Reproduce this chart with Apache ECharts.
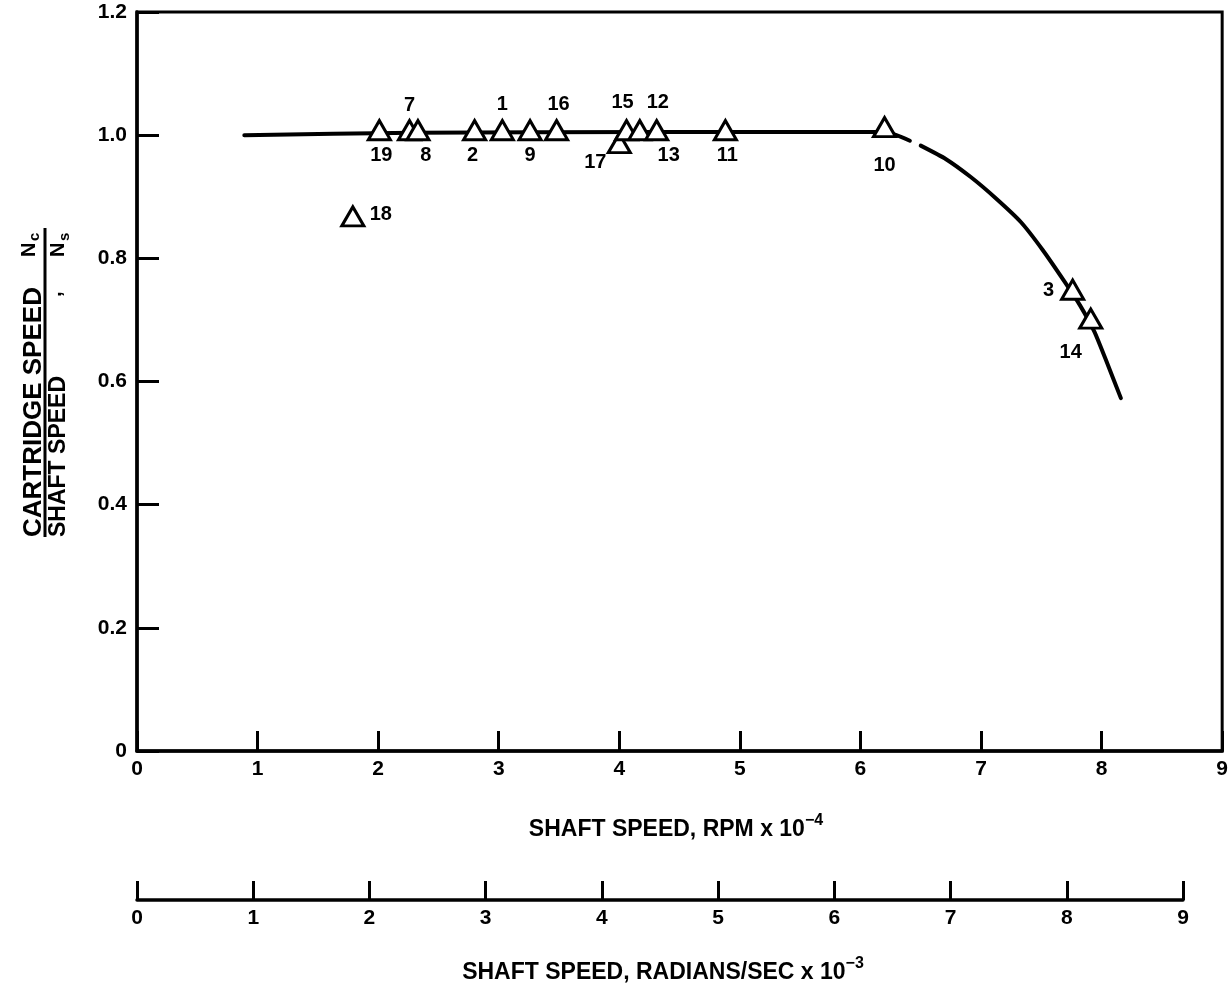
<!DOCTYPE html>
<html>
<head>
<meta charset="utf-8">
<title>Cartridge speed ratio vs shaft speed</title>
<script src="https://cdn.jsdelivr.net/npm/echarts@6/dist/echarts.min.js"></script>
<style>
  html, body { margin: 0; padding: 0; background: #fff; }
  #chart { width: 1231px; height: 994px; }
</style>
</head>
<body>
<div id="chart"></div>
<script>
// Test run numbers and measured points: shaft speed (RPM x 1e-4) and Nc/Ns
const runs  = ['19', '7', '8', '2', '1', '9', '16', '17', '15', '12', '13', '11', '10', '18', '3', '14'];
const rpm   = [2.01, 2.26, 2.33, 2.80, 3.03, 3.26, 3.48, 4.00, 4.06, 4.17, 4.31, 4.88, 6.20, 1.79, 7.76, 7.91];
const ratio = [1.008, 1.008, 1.008, 1.008, 1.008, 1.008, 1.008, 0.987, 1.008, 1.008, 1.008, 1.008, 1.013, 0.868, 0.749, 0.702];

// Faired curve through the data (null leaves the small break in the pen line)
const curveRpm   = [0.89, 2.3, 4.3, 6.204, 6.41, null, 6.50, 6.71, 6.915, 7.12, 7.33, 7.51, 7.69, 7.82, 7.94, 8.05, 8.16];
const curveRatio = [1.0, 1.004, 1.005, 1.005, 0.991, null, 0.983, 0.961, 0.932, 0.898, 0.859, 0.814, 0.763, 0.724, 0.681, 0.628, 0.573];

// Axis ticks
const rpmTicks = [0, 1, 2, 3, 4, 5, 6, 7, 8, 9];
const radTicks = [0, 1, 2, 3, 4, 5, 6, 7, 8, 9];
const ratioTicks = [0, 0.2, 0.4, 0.6, 0.8, 1.0, 1.2];

// Where each run number sits relative to its triangle (pixels)
const labelOffset = {
  '19': [2, 25], '7': [0, -25], '8': [8, 25], '2': [-2, 25], '1': [0, -26],
  '9': [0, 25], '16': [2, -26], '17': [-24, 19], '15': [-4, -28], '12': [18, -28],
  '13': [12, 25], '11': [2, 25], '10': [0, 38], '18': [28, -2], '3': [-24, 1], '14': [-20, 34]
};

const FONT = 'Liberation Sans';
const INK = '#000';

const points = runs.map((r, i) => ({
  value: [rpm[i], ratio[i]],
  name: r,
  label: { offset: labelOffset[r] }
}));
const curve = curveRpm.map((x, i) => (x === null ? [null, null] : [x, curveRatio[i]]));

const chart = echarts.init(document.getElementById('chart'), null, { renderer: 'canvas' });

const supTitle = (main, sup, x, y) => ({
  type: 'text', x: x, y: y,
  style: {
    text: '{m|' + main + '}{s|' + sup + '}',
    align: 'center', verticalAlign: 'bottom', fill: INK,
    rich: {
      m: { fontFamily: FONT, fontWeight: 'bold', fontSize: 23, lineHeight: 28, verticalAlign: 'bottom', fill: INK },
      s: { fontFamily: FONT, fontWeight: 'bold', fontSize: 16, lineHeight: 28, verticalAlign: 'top', fill: INK }
    }
  }
});

chart.setOption({
  backgroundColor: '#fff',
  animation: false,
  grid: [
    { left: 137, right: 6, top: 12, bottom: 243, show: true, borderColor: INK, borderWidth: 3, backgroundColor: 'transparent' },
    { left: 137, width: 1046, top: 880, height: 20, show: false }
  ],
  xAxis: [
    {
      type: 'value', gridIndex: 0, min: rpmTicks[0], max: rpmTicks[rpmTicks.length - 1], interval: 1,
      axisLine: { show: true, onZero: false, lineStyle: { color: INK, width: 3.5 } },
      axisTick: { show: true, inside: true, length: 20, lineStyle: { color: INK, width: 3 } },
      axisLabel: { color: INK, fontFamily: FONT, fontWeight: 'bold', fontSize: 21, margin: 8 },
      splitLine: { show: false }
    },
    {
      type: 'value', gridIndex: 1, min: radTicks[0], max: radTicks[radTicks.length - 1], interval: 1,
      axisLine: { show: true, onZero: false, lineStyle: { color: INK, width: 3.5 } },
      axisTick: { show: true, inside: true, length: 19, lineStyle: { color: INK, width: 3 } },
      axisLabel: { color: INK, fontFamily: FONT, fontWeight: 'bold', fontSize: 21, margin: 8 },
      splitLine: { show: false }
    }
  ],
  yAxis: [
    {
      type: 'value', gridIndex: 0, min: ratioTicks[0], max: ratioTicks[ratioTicks.length - 1], interval: 0.2,
      axisLine: { show: true, onZero: false, lineStyle: { color: INK, width: 3.5 } },
      axisTick: { show: true, inside: true, length: 22, lineStyle: { color: INK, width: 3 } },
      axisLabel: {
        color: INK, fontFamily: FONT, fontWeight: 'bold', fontSize: 21, margin: 10,
        formatter: v => (v === 0 ? '0' : v.toFixed(1))
      },
      splitLine: { show: false }
    },
    { type: 'value', gridIndex: 1, show: false, min: 0, max: 1 }
  ],
  series: [
    {
      type: 'line', xAxisIndex: 0, yAxisIndex: 0, data: curve,
      showSymbol: false, smooth: 0.2, connectNulls: false,
      lineStyle: { color: INK, width: 4, cap: 'round' }, z: 2
    },
    {
      type: 'scatter', xAxisIndex: 0, yAxisIndex: 0, data: points,
      symbol: 'triangle', symbolSize: [22, 19],
      itemStyle: { color: '#fff', borderColor: INK, borderWidth: 3, opacity: 1 },
      label: {
        show: true, position: 'inside', formatter: p => p.name,
        color: INK, fontFamily: FONT, fontWeight: 'bold', fontSize: 20
      },
      emphasis: { disabled: true },
      z: 3
    }
  ],
  graphic: [
    supTitle('SHAFT SPEED, RPM x 10', '\u22124', 676, 841),
    supTitle('SHAFT SPEED, RADIANS/SEC x 10', '\u22123', 663, 984),
    {
      // vertical axis title: CARTRIDGE SPEED / SHAFT SPEED , Nc / Ns
      type: 'group', x: 45, y: 537, rotation: Math.PI / 2,
      children: [
        { type: 'text', x: 0, y: -11, style: { text: 'CARTRIDGE SPEED', font: 'bold 26px ' + FONT, fill: INK, align: 'left', verticalAlign: 'middle' } },
        { type: 'text', x: 0, y: 14, style: { text: 'SHAFT SPEED', font: 'bold 23px ' + FONT, fill: INK, align: 'left', verticalAlign: 'middle' } },
        { type: 'line', shape: { x1: 0, y1: 0, x2: 309, y2: 0 }, style: { stroke: INK, lineWidth: 3 } },
        { type: 'text', x: 240, y: 10, style: { text: ',', font: 'bold 20px ' + FONT, fill: INK, align: 'left', verticalAlign: 'middle' } },
        { type: 'text', x: 280, y: -16, style: { text: 'N', font: 'bold 20px ' + FONT, fill: INK, align: 'left', verticalAlign: 'middle' } },
        { type: 'text', x: 296, y: -10, style: { text: 'c', font: 'bold 15px ' + FONT, fill: INK, align: 'left', verticalAlign: 'middle' } },
        { type: 'text', x: 280, y: 13, style: { text: 'N', font: 'bold 20px ' + FONT, fill: INK, align: 'left', verticalAlign: 'middle' } },
        { type: 'text', x: 296, y: 20, style: { text: 's', font: 'bold 15px ' + FONT, fill: INK, align: 'left', verticalAlign: 'middle' } }
      ]
    }
  ]
});
</script>
</body>
</html>
